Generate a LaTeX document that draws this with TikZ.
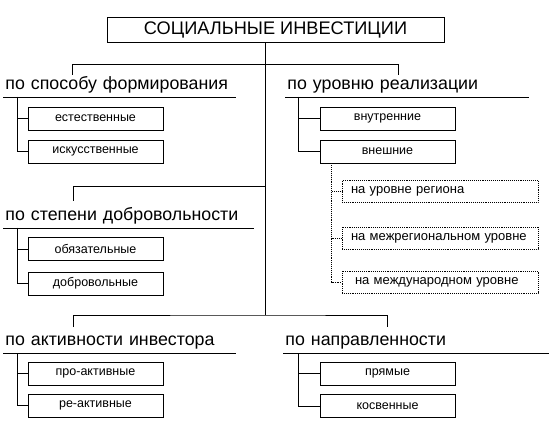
\documentclass[tikz,border=0pt]{standalone}
\usepackage{fontspec}
\setmainfont{Liberation Sans}
\begin{document}
\begin{tikzpicture}[x=1pt,y=-1pt,
  every path/.style={line width=0.9pt},
  titlebox/.style={draw, minimum width=337pt, minimum height=25pt, inner sep=0pt, font=\fontsize{18.2}{20}\selectfont},
  box/.style={draw, minimum width=135pt, minimum height=23pt, inner sep=0pt, font=\fontsize{12.5}{14}\selectfont},
  dbox/.style={draw, densely dotted, minimum width=196pt, minimum height=22pt, inner xsep=9pt, inner ysep=0pt, text width=178pt, align=left, font=\fontsize{13}{15}\selectfont},
  head/.style={anchor=south west, inner xsep=2pt, inner ysep=3pt, align=left, font=\fontsize{17.8}{20}\selectfont},
  conn/.style={draw},
  dconn/.style={draw, densely dotted}]
\useasboundingbox (0,0) rectangle (556,435);

% title
\node[titlebox] (title) at (275.5,29.5) {СОЦИАЛЬНЫЕ ИНВЕСТИЦИИ};

% headings
\node[head, text width=228pt] (h1) at (3,97) {по способу формирования};
\node[head, text width=239pt] (h2) at (285,97) {по уровню реализации};
\node[head, text width=246pt] (h3) at (3,228) {по степени добровольности};
\node[head, text width=228pt] (h4) at (3,353) {по активности инвестора};
\node[head, text width=261pt] (h5) at (283,353) {по направленности};
\foreach \h in {h1,h2,h3,h4,h5}{\draw (\h.south west) -- (\h.south east);}

% boxes
\node[box] (e1) at (95.5,118.5) {естественные};
\node[box] (e2) at (95.5,151.5) {искусственные};
\node[box] (r1) at (387.5,118.5) {внутренние};
\node[box] (r2) at (387.5,151.5) {внешние};
\node[dbox] (d1) at (440,191.5) {на уровне региона};
\node[dbox] (d2) at (440,238) {на межрегиональном уровне};
\node[dbox] (d3) at (440,282) {\hspace*{4pt}на международном уровне};
\node[box] (v1) at (95.5,249) {обязательные};
\node[box] (v2) at (95.5,283.5) {добровольные};
\node[box] (a1) at (95.5,373.5) {про-активные};
\node[box] (a2) at (95.5,405.5) {ре-активные};
\node[box] (n1) at (387.5,373.5) {прямые};
\node[box] (n2) at (387.5,406) {косвенные};

% trunk and brackets
\coordinate (trunk) at (265,315);
\coordinate (t1l) at (72,75);
\coordinate (t1r) at (398,75);
\coordinate (t3) at (73,201);
\coordinate (t4l) at (73,327);
\coordinate (t5r) at (387,327);
\draw[conn] (title.south -| trunk) -- (trunk);
\draw[conn] (t1l) |- (t1r |- 0,64) -- (t1r);
\draw[conn] (trunk |- 0,186) -| (t3);
\draw[conn] (t4l) |- (trunk) -| (t5r);

% branches
\draw[conn] ([xshift=14pt]h1.south west) |- (e1.west);
\draw[conn] ([xshift=14pt]h1.south west) |- (e2.west);
\draw[conn] ([xshift=13pt]h2.south west) |- (r1.west);
\draw[conn] ([xshift=13pt]h2.south west) |- (r2.west);
\draw[conn] ([xshift=14pt]h3.south west) |- (v1.west);
\draw[conn] ([xshift=14pt]h3.south west) |- (v2.west);
\draw[conn] ([xshift=14pt]h4.south west) |- (a1.west);
\draw[conn] ([xshift=14pt]h4.south west) |- (a2.west);
\draw[conn] ([xshift=15pt]h5.south west) |- (n1.west);
\draw[conn] ([xshift=15pt]h5.south west) |- (n2.west);

% dotted branches
\draw[dconn] ([xshift=12pt]r2.south west) |- (d1.west);
\draw[dconn] ([xshift=12pt]r2.south west) |- (d2.west);
\draw[dconn] ([xshift=12pt]r2.south west) |- (d3.west);
\end{tikzpicture}
\end{document}
